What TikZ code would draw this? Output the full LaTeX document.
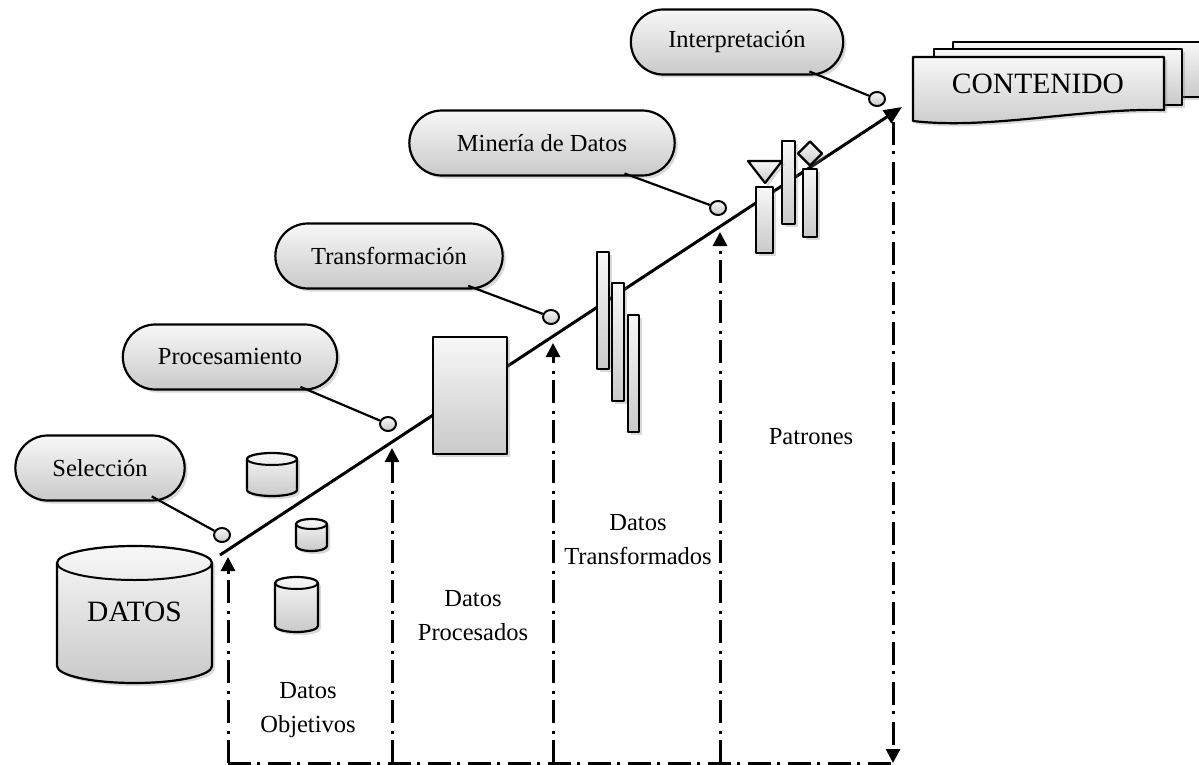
\documentclass[tikz,border=0pt]{standalone}
\usepackage{fontspec}
\setmainfont{Liberation Serif}
\usetikzlibrary{shapes.geometric,shapes.misc,shadows,arrows.meta}
\newcommand\barril[5]{% centro x, borde superior, radio x, radio y, alto
\draw[figura] (#1-#3,#2+#4) -- (#1-#3,#2+#5-#4) arc[start angle=180,end angle=360,x radius=#3pt,y radius=#4pt] -- (#1+#3,#2+#4) arc[start angle=0,end angle=180,x radius=#3pt,y radius=#4pt] -- cycle;
\draw[line width=2pt] (#1-#3,#2+#4) arc[start angle=180,end angle=360,x radius=#3pt,y radius=#4pt];
}
\begin{document}
\begin{tikzpicture}
[x=1pt,y=-1pt,line join=round]
\tikzstyle{relleno}=[top color=gray!6,bottom color=gray!42]
\tikzstyle{sombra}=[drop shadow={opacity=0.3,shadow xshift=3pt,shadow yshift=-3pt}]
\tikzstyle{etapa}=[rounded rectangle,draw,line width=2.2pt,relleno,sombra,minimum height=65pt,font=\fontsize{24.5}{29}\selectfont]
\tikzstyle{punto}=[ellipse,draw,line width=2pt,relleno,minimum width=16pt,minimum height=14pt,inner sep=0pt]
\tikzstyle{barra}=[rectangle,draw,line width=2.2pt,relleno,sombra,inner sep=0pt]
\tikzstyle{figura}=[draw,line width=2.2pt,relleno,sombra]
\tikzstyle{enlace}=[line width=2.2pt,shorten <=-9pt]
\tikzstyle{flujo}=[line width=3pt,dash pattern=on 23pt off 6pt on 3pt off 8pt]
\tikzstyle{rotulo}=[align=center,font=\fontsize{24.5}{34}\selectfont]
\useasboundingbox (0,0) rectangle (1199,765);
\coordinate (inicio) at (220,555);
\coordinate (fin) at (902,107);
\draw[line width=3pt,-{Triangle[length=18pt,width=15pt]}] (inicio) -- (fin);
\foreach \x/\y [count=\i] in {228/557,392/448,553/343,720/232} {
\coordinate (base\i) at (\x,763);
\coordinate (punta\i) at (\x,\y);
\draw[flujo,-{Triangle[length=14pt,width=14pt]}] (base\i) -- (punta\i);
}
\coordinate (base5) at (893,763);
\coordinate (punta5) at (893,122);
\draw[flujo,-{Triangle[length=14pt,width=14pt]}] (punta5) -- (base5);
\draw[flujo] (base1) -- (base5);
\node[etapa,minimum width=176pt] (seleccion) at (100,468) {Selección};
\node[etapa,minimum width=221pt] (procesamiento) at (230,357) {Procesamiento};
\node[etapa,minimum width=234pt] (transformacion) at (389,256) {Transformación};
\node[etapa,minimum width=272pt] (mineria) at (542,143) {Minería de Datos};
\node[etapa,minimum width=219pt] (interpretacion) at (737,42) {Interpretación};
\node[punto] (p1) at (222,535) {};
\node[punto] (p2) at (388,424) {};
\node[punto] (p3) at (551,317) {};
\node[punto] (p4) at (718,208) {};
\node[punto] (p5) at (877,99) {};
\draw[enlace] (seleccion) -- (p1);
\draw[enlace] (procesamiento) -- (p2);
\draw[enlace] (transformacion) -- (p3);
\draw[enlace] (mineria) -- (p4);
\draw[enlace] (interpretacion) -- (p5);
\barril{134.5}{546}{77.5}{17}{137}
\barril{272}{453}{25}{6}{43}
\barril{311.5}{519}{15.5}{5}{32}
\barril{296.5}{577}{21.5}{6}{55}
\node[font=\fontsize{29.5}{34}\selectfont] (datos) at (134.5,612) {DATOS};
\node[barra,minimum width=74pt,minimum height=117pt] (procesados) at (470,395.5) {};
\node[barra,minimum width=12pt,minimum height=117pt] (tira1) at (603,310.5) {};
\node[barra,minimum width=12pt,minimum height=118pt] (tira2) at (618,342) {};
\node[barra,minimum width=11pt,minimum height=117pt] (tira3) at (633.5,373.5) {};
\node[barra,minimum width=17pt,minimum height=66pt] (b1) at (764.5,220) {};
\node[barra,minimum width=13pt,minimum height=83pt] (b2) at (788.5,182.5) {};
\node[barra,minimum width=14pt,minimum height=68pt] (b3) at (810,203) {};
\draw[figura] (748,161) -- (782,161) -- (765,183) -- cycle;
\draw[figura] (810,141.5) -- (822,153.5) -- (810,165.5) -- (798,153.5) -- cycle;
\draw[figura] (953,42) -- (1215,42) -- (1215,97) -- (953,97) -- cycle;
\draw[figura] (934,49) -- (1182,49) -- (1182,105) -- (934,105) -- cycle;
\draw[figura] (913,57) -- (1164,57) -- (1164,110) .. controls (1080,108) and (990,130) .. (913,121) -- cycle;
\node[font=\fontsize{29.5}{34}\selectfont] (contenido) at (1038,84) {CONTENIDO};
\node[rotulo] (objetivos) at (308,710) {Datos\\Objetivos};
\node[rotulo] (procesadosrot) at (473,616) {Datos\\Procesados};
\node[rotulo] (transformados) at (638,540) {Datos\\Transformados};
\node[rotulo] (patrones) at (811,437) {Patrones};
\end{tikzpicture}
\end{document}
